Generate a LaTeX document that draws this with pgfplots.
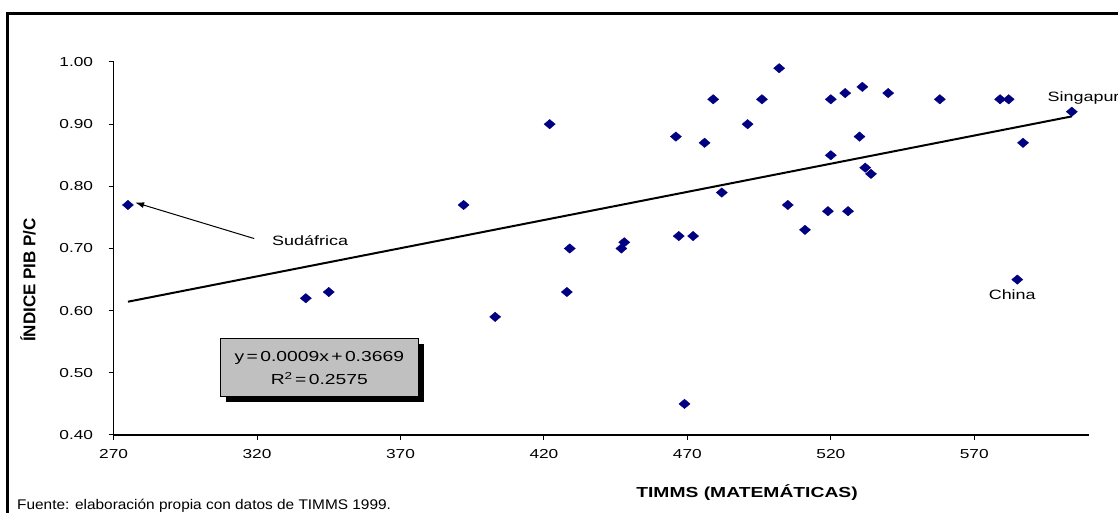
\documentclass[border=0pt]{standalone}
\usepackage{pgfplots}
\pgfplotsset{compat=1.18}
\usepackage{fontspec}
\setmainfont{Liberation Sans}
\newfontfamily\chartfont{Liberation Sans}[FakeStretch=1.33]
\newfontfamily\footfont{Liberation Sans}[FakeStretch=1.1]
\usetikzlibrary{arrows.meta}
\definecolor{navy}{RGB}{0,0,128}
\definecolor{boxgray}{RGB}{192,192,192}
\begin{document}
\begin{tikzpicture}[font=\chartfont\fontsize{13.5bp}{16bp}\selectfont]
\useasboundingbox (0bp,0bp) rectangle (1118bp,513bp);
\draw[line width=2.2bp] (7.5bp,-20bp) rectangle (1140bp,499.5bp);
\begin{axis}[
  at={(113.6bp,78bp)}, anchor=south west, scale only axis,
  width=975.4bp, height=373bp,
  xmin=270, xmax=610, ymin=0.4, ymax=1.0,
  xtick={270,320,370,420,470,520,570},
  xticklabels={270,320,370,420,470,520,570},
  ytick={0.4,0.5,0.6,0.7,0.8,0.9,1.0},
  yticklabels={0.40,0.50,0.60,0.70,0.80,0.90,1.00},
  axis lines=left,
  axis line style={line width=1.2bp, -},
  tick style={black, line width=1bp},
  major tick length=5bp, tick align=outside,
  ticklabel style={font=\chartfont\fontsize{13bp}{15bp}\selectfont},
  xticklabel style={yshift=-6bp},
  yticklabel style={xshift=-12bp},
  clip=false,
]
\addplot[black, line width=2bp, no marks] coordinates {(275,0.6144) (604,0.9125)};
\addplot[only marks, mark=diamond*, mark size=4.7bp, color=navy,
  mark options={fill=navy, draw=navy, xscale=1.57}] table {
x y
275 0.77
337 0.62
345 0.63
392 0.77
403 0.59
422 0.90
428 0.63
429 0.70
447 0.70
448 0.71
466 0.88
467 0.72
469 0.45
472 0.72
476 0.87
479 0.94
482 0.79
491 0.90
496 0.94
502 0.99
505 0.77
511 0.73
519 0.76
520 0.85
520 0.94
525 0.95
526 0.76
530 0.88
531 0.96
532 0.83
534 0.82
540 0.95
558 0.94
579 0.94
582 0.94
585 0.65
587 0.87
604 0.92
};
\node[anchor=west, inner sep=0] at (axis cs:325.2,0.713) {Sudáfrica};
\draw[-{Latex[length=9bp,width=6bp]}, line width=1bp] (axis cs:319,0.716) -- (axis cs:277.5,0.774);
\node[anchor=west, inner sep=0] at (axis cs:595.5,0.942) {Singapur};
\node[anchor=west, inner sep=0] at (axis cs:575,0.625) {China};
\node[fill=black, minimum width=198bp, minimum height=58bp, inner sep=0]
  at ([shift={(5.5bp,-5bp)}]axis cs:341.7,0.508) {};
\node[draw=black, line width=1bp, fill=boxgray, minimum width=198bp, minimum height=58bp,
  inner sep=0, align=center, font=\chartfont\fontsize{14.5bp}{23bp}\selectfont]
  at (axis cs:341.7,0.508) {y\,=\,0.0009x\,+\,0.3669\\R\textsuperscript{2}\,=\,0.2575};
\end{axis}
\node[rotate=90, font=\bfseries\fontsize{17bp}{19bp}\selectfont] at (28bp,233bp) {ÍNDICE PIB P/C};
\node[font=\chartfont\bfseries\fontsize{14.5bp}{16bp}\selectfont] at (747bp,20bp) {TIMMS (MATEMÁTICAS)};
\node[anchor=base west, inner sep=0, font=\footfont\fontsize{14bp}{16bp}\selectfont] at (17bp,4bp) {Fuente: elaboración propia con datos de TIMMS 1999.};
\end{tikzpicture}
\end{document}
